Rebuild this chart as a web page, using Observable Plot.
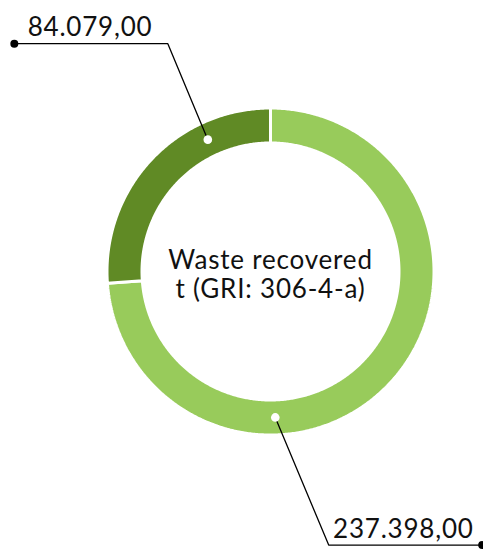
<!DOCTYPE html>
<html>
<head>
<meta charset="utf-8">
<script src="https://cdn.jsdelivr.net/npm/d3@7"></script>
<script src="https://cdn.jsdelivr.net/npm/@observablehq/plot@0.6"></script>
<style>
  html, body { margin: 0; padding: 0; background: #ffffff; }
  #chart svg { display: block; }
  #chart svg text { letter-spacing: 0.8px; }
</style>
</head>
<body>
<div id="chart"></div>
<script>
// ---- Data (drawn clockwise from 12 o'clock) ----
const categories = ["Waste recovered (share B)", "Waste recovered (share A)"];
const values = [237398, 84079];
const valueLabels = ["237.398,00", "84.079,00"];
const sliceColors = ["#98cb5b", "#608a25"];
const centerTitle = ["Waste recovered", "t (GRI: 306-4-a)"];

// ---- Layout ----
const W = 483, H = 550;
const outerR = 163.5, innerR = 128.5, midR = 146;
const anchorFrac = [0.67, 0.73];               // where each leader touches its slice
const leaderOffset = [[53.4, 127.7], [-40, -96]]; // dot -> elbow
const leaderRun = [153.5, -153.5];             // elbow -> end (horizontal)
const fontFamily = "Lato, 'Noto Sans', sans-serif";
const fs = 26;

const total = d3.sum(values);
let acc = 0;
const slices = values.map((v, i) => {
  const a0 = acc / total * 2 * Math.PI;
  acc += v;
  const a1 = acc / total * 2 * Math.PI;
  return {key: categories[i], value: v, label: valueLabels[i], color: sliceColors[i], a0, a1, i};
});

const pt = (r, a) => ({x: r * Math.sin(a), y: -r * Math.cos(a)});

function ring(s) {
  const n = Math.max(8, Math.ceil((s.a1 - s.a0) / (Math.PI / 360)));
  const pts = [];
  for (let k = 0; k <= n; k++) pts.push(pt(outerR, s.a0 + (s.a1 - s.a0) * k / n));
  for (let k = n; k >= 0; k--) pts.push(pt(innerR, s.a0 + (s.a1 - s.a0) * k / n));
  return pts;
}

const anchors = slices.map(s => {
  const p = pt(midR, s.a0 + (s.a1 - s.a0) * anchorFrac[s.i]);
  const elbow = {x: p.x + leaderOffset[s.i][0], y: p.y + leaderOffset[s.i][1]};
  const end = {x: elbow.x + leaderRun[s.i], y: elbow.y};
  return {s, p, elbow, end};
});

const marks = [];
slices.forEach(s => {
  marks.push(Plot.line(ring(s), {x: "x", y: "y", fill: s.color, stroke: "#ffffff", strokeWidth: 3, strokeLinejoin: "miter", curve: "linear-closed"}));
});
anchors.forEach(a => {
  marks.push(Plot.line([a.p, a.elbow, a.end], {x: "x", y: "y", stroke: "#000000", strokeWidth: 1.3}));
  marks.push(Plot.dot([a.p], {x: "x", y: "y", r: 4.3, fill: "#ffffff", stroke: "none"}));
  marks.push(Plot.dot([a.end], {x: "x", y: "y", r: 4, fill: "#000000", stroke: "none"}));
  const right = a.s.i === 0;
  marks.push(Plot.text([a.s], {
    x: () => right ? a.end.x - 8.5 : a.end.x + 13.3,
    y: () => a.end.y - 26,
    text: "label",
    textAnchor: right ? "end" : "start",
    lineAnchor: "top",
    fontSize: fs,
    fill: "#111111"
  }));
});
marks.push(Plot.text([centerTitle.join("\n")], {
  x: () => 0, y: () => -23.5, text: d => d,
  textAnchor: "middle", lineAnchor: "top", lineHeight: 1.115, fontSize: fs, fill: "#111111"
}));

const chart = Plot.plot({
  width: W, height: H, margin: 0,
  x: {domain: [-270, 213], range: [0, W], axis: null},
  y: {domain: [-271, 279], range: [0, H], axis: null},
  style: {fontFamily, background: "#ffffff", overflow: "visible"},
  marks
});
document.getElementById("chart").append(chart);
</script>
</body>
</html>
